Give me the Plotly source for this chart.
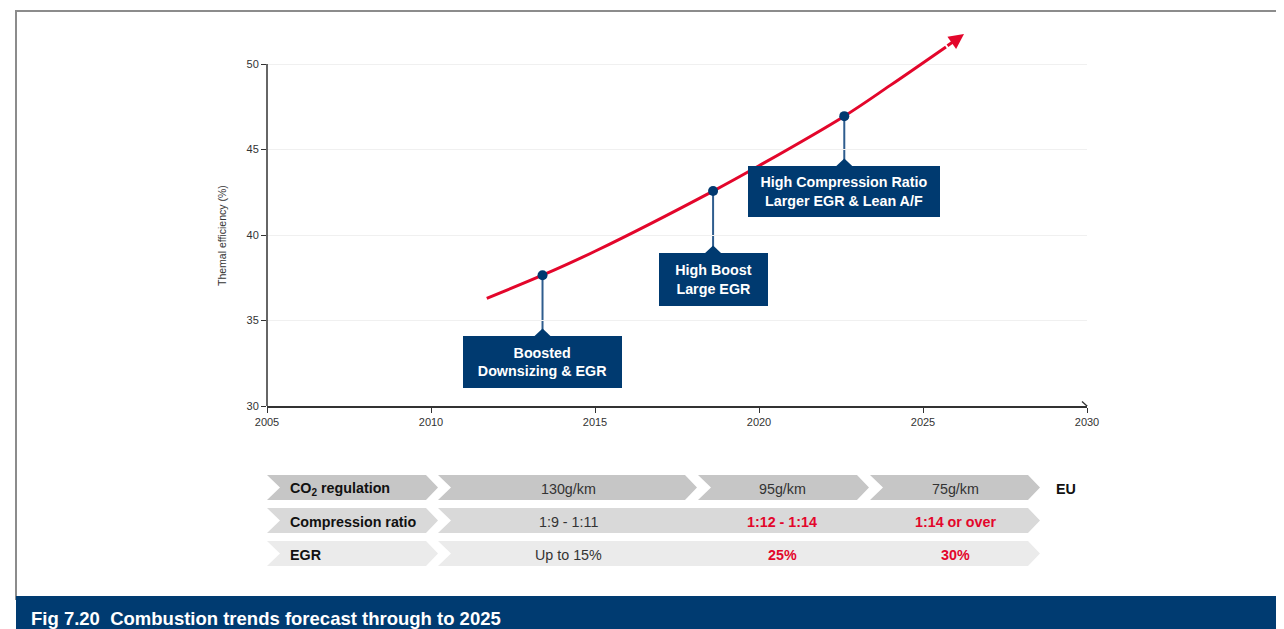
import plotly.graph_objects as go

# ---------------- data ----------------
year_ticks = [2005, 2010, 2015, 2020, 2025, 2030]
eff_ticks = [30, 35, 40, 45, 50]

trend_year = [2011.7, 2013.4, 2015.0, 2018.6, 2020.0, 2022.6, 2024.0, 2025.7]
trend_eff = [36.3, 37.65, 39.05, 42.57, 44.05, 46.95, 48.75, 51.0]
arrow_tip_year = 2026.25
arrow_tip_eff = 51.75

milestone_year = [2013.4, 2018.6, 2022.6]
milestone_eff = [37.65, 42.57, 46.95]
milestone_label = ["Boosted<br>Downsizing & EGR",
                   "High Boost<br>Large EGR",
                   "High Compression Ratio<br>Larger EGR & Lean A/F"]

row_labels = ["CO<sub>2</sub> regulation", "Compression ratio", "EGR"]
co2_values = ["130g/km", "95g/km", "75g/km"]
compression_values = ["1:9 - 1:11", "1:12 - 1:14", "1:14 or over"]
egr_values = ["Up to 15%", "25%", "30%"]
region = "EU"
y_title = "Themal efficiency (%)"
caption = "Fig 7.20&nbsp; Combustion trends forecast through to 2025"

# ---------------- styles / layout constants ----------------
# the page body has an 8px margin, so the figure is 8px smaller each way
OFF = 8
W, H = 1284 - OFF, 629 - OFF
PLOT_X0, PLOT_X1 = 267, 1087      # page pixels of the plot area
PLOT_Y0, PLOT_Y1 = 406, 26        # page pixels (bottom, top)
L, R = PLOT_X0 - OFF, 1284 - PLOT_X1
T, B = PLOT_Y1 - OFF, 629 - PLOT_Y0
PX_PER_UNIT = 17.1
Y_MAX = 30 + (PLOT_Y0 - PLOT_Y1) / PX_PER_UNIT
FONT = "Liberation Sans, Arial, Helvetica, sans-serif"
RED = "#e3062b"
NAVY = "#003a70"
CONNECT = "#2f5d8e"
AXIS = "#333333"

box_top_eff = [34.09, 38.95, 44.04]
box_w = [159, 109, 192]
box_h = [52, 53, 51]


def px(x):
    return (x - PLOT_X0) / (PLOT_X1 - PLOT_X0)


def py(y):
    return (PLOT_Y0 - y) / (PLOT_Y0 - PLOT_Y1)


fig = go.Figure()

# trend curve
fig.add_trace(go.Scatter(
    x=trend_year, y=trend_eff, mode="lines",
    line=dict(color=RED, width=3, shape="spline", smoothing=1),
    hoverinfo="skip", showlegend=False))

# milestone markers
fig.add_trace(go.Scatter(
    x=milestone_year, y=milestone_eff, mode="markers",
    marker=dict(color=NAVY, size=10),
    hoverinfo="skip", showlegend=False, cliponaxis=False))

shapes = []
annotations = []

# arrow head at the end of the trend
annotations.append(dict(
    x=arrow_tip_year, y=arrow_tip_eff, ax=trend_year[-1], ay=trend_eff[-1],
    xref="x", yref="y", axref="x", ayref="y", text="", showarrow=True,
    arrowhead=2, arrowsize=1, arrowwidth=3, arrowcolor=RED))

# callouts
for xm, ym, lab, bt, bw, bh in zip(milestone_year, milestone_eff, milestone_label,
                                   box_top_eff, box_w, box_h):
    shapes.append(dict(type="line", xref="x", yref="y", x0=xm, x1=xm, y0=ym, y1=bt,
                       line=dict(color=CONNECT, width=2), layer="below"))
    shapes.append(dict(type="path", xref="x", yref="y", xsizemode="pixel",
                       ysizemode="pixel", xanchor=xm, yanchor=bt,
                       path="M-9,-1 L0,7.5 L9,-1 Z", fillcolor=NAVY,
                       line=dict(width=0)))
    annotations.append(dict(
        x=xm, y=bt, xref="x", yref="y", xanchor="center", yanchor="top",
        text="<b>" + lab + "</b>", showarrow=False, width=bw, height=bh,
        bgcolor=NAVY, borderpad=0, borderwidth=0, align="center", valign="middle",
        font=dict(family=FONT, size=14.3, color="white")))

# y axis line (only to 50)
shapes.append(dict(type="line", xref="paper", yref="y", x0=0, x1=0, y0=30, y1=50,
                   line=dict(color=AXIS, width=1.5)))
# x axis arrow end
shapes.append(dict(type="path", xref="paper", yref="y", xsizemode="pixel",
                   ysizemode="pixel", xanchor=1, yanchor=30,
                   path="M-5,4.5 L0,0 L-5,-4.5", line=dict(color=AXIS, width=1.3)))

# y axis title
annotations.append(dict(x=px(222), y=py(236), xref="paper", yref="paper",
                        xanchor="center", yanchor="middle",
                        text=y_title, textangle=-90, showarrow=False,
                        font=dict(family=FONT, size=10.5, color=AXIS)))

# ---------------- table of chevrons ----------------
row_tops = [475, 508, 541]
row_h = 25
row_colors = ["#c6c6c6", "#d9d9d9", "#ebebeb"]
row_segments = [
    [(267, 426), (438, 685), (698, 857), (870, 1028)],
    [(267, 426), (438, 1028)],
    [(267, 426), (438, 1028)],
]
NOTCH = 13
TIP = 12
for top, col, segs in zip(row_tops, row_colors, row_segments):
    bot = top + row_h
    mid = top + row_h / 2
    for x0, x1 in segs:
        pts = [(x0, top), (x1, top), (x1 + TIP, mid), (x1, bot), (x0, bot),
               (x0 + NOTCH, mid)]
        path = "M " + " L ".join(f"{px(a):.5f},{py(b):.5f}" for a, b in pts) + " Z"
        shapes.append(dict(type="path", xref="paper", yref="paper", path=path,
                           fillcolor=col, line=dict(width=0), layer="below"))

value_cx = [568, 782, 955]
row_values = [co2_values, compression_values, egr_values]
for i, (top, lab, vals) in enumerate(zip(row_tops, row_labels, row_values)):
    mid = top + row_h / 2 + 1
    annotations.append(dict(x=px(288), y=py(mid), xref="paper", yref="paper",
                            xanchor="left", yanchor="middle", showarrow=False,
                            text="<b>" + lab + "</b>",
                            font=dict(family=FONT, size=14.3, color="#111111")))
    for j, (cx, v) in enumerate(zip(value_cx, vals)):
        highlight = i > 0 and j > 0
        annotations.append(dict(
            x=px(cx), y=py(mid), xref="paper", yref="paper", xanchor="center",
            yanchor="middle", showarrow=False,
            text=("<b>" + v + "</b>") if highlight else v,
            font=dict(family=FONT, size=14.3, color=RED if highlight else "#333333")))

annotations.append(dict(x=px(1066), y=py(row_tops[0] + row_h / 2 + 1), xref="paper",
                        yref="paper", xanchor="center", yanchor="middle",
                        showarrow=False, text="<b>" + region + "</b>",
                        font=dict(family=FONT, size=14.3, color="#111111")))

# ---------------- frame and caption bar ----------------
shapes.append(dict(type="line", xref="paper", yref="paper", x0=px(15), x1=px(1290),
                   y0=py(11), y1=py(11), line=dict(color="#8c8c8c", width=2)))
shapes.append(dict(type="line", xref="paper", yref="paper", x0=px(16), x1=px(16),
                   y0=py(10), y1=py(600), line=dict(color="#8c8c8c", width=2)))
shapes.append(dict(type="rect", xref="paper", yref="paper", x0=px(16), x1=px(1290),
                   y0=py(596), y1=py(635), fillcolor="#003b71", line=dict(width=0)))
annotations.append(dict(x=px(29), y=py(618), xref="paper", yref="paper",
                        xanchor="left", yanchor="middle", showarrow=False,
                        text="<b>" + caption + "</b>",
                        font=dict(family=FONT, size=18.5, color="white")))

fig.update_layout(
    width=W, height=H,
    margin=dict(l=L, r=R, t=T, b=B, pad=0),
    paper_bgcolor="white", plot_bgcolor="white",
    showlegend=False,
    shapes=shapes, annotations=annotations,
    xaxis=dict(range=[2005, 2030], tickvals=year_ticks,
               ticktext=[str(v) for v in year_ticks],
               showgrid=False, zeroline=False, showline=True, linecolor=AXIS,
               linewidth=1.5, ticks="outside", ticklen=5, tickcolor=AXIS,
               tickwidth=1.3, tickfont=dict(family=FONT, size=11, color=AXIS),
               fixedrange=True),
    yaxis=dict(range=[30, Y_MAX], tickvals=eff_ticks,
               ticktext=[str(v) for v in eff_ticks],
               showgrid=True, gridcolor="#f0f0f0", gridwidth=1, zeroline=False,
               showline=False, ticks="outside", ticklen=5, tickcolor=AXIS,
               tickwidth=1.3, tickfont=dict(family=FONT, size=11, color=AXIS),
               fixedrange=True),
    font=dict(family=FONT),
)

fig.write_html("out.html")
